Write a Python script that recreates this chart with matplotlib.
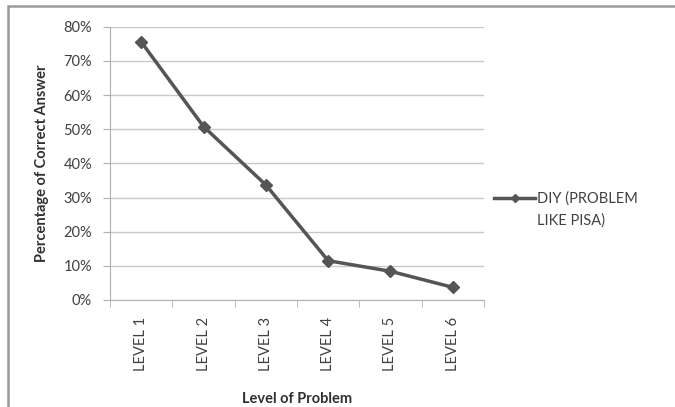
import matplotlib.pyplot as plt
from matplotlib.lines import Line2D
from matplotlib.patches import Rectangle
from matplotlib.ticker import PercentFormatter
from matplotlib.transforms import ScaledTranslation

levels = ['LEVEL 1', 'LEVEL 2', 'LEVEL 3', 'LEVEL 4', 'LEVEL 5', 'LEVEL 6']
correct = [75.6, 50.8, 33.7, 11.5, 8.4, 3.7]
series_name = 'DIY (PROBLEM\nLIKE PISA)'

plt.rcParams['font.family'] = ['Lato', 'DejaVu Sans']

fig = plt.figure(figsize=(6.75, 4.07), dpi=100)
ax = fig.add_axes([0.163, 0.263, 0.554, 0.671])

# gray frame, only top and left edges are inside the picture
fig.patches.append(Rectangle((0.012, -0.2), 1.2, 1.185, transform=fig.transFigure,
                             fill=False, edgecolor='#9a9a9a', linewidth=1.8))

x = list(range(len(levels)))
ax.plot(x, correct, color='#555555', linewidth=2.5, marker='D', markersize=6,
        label=series_name)

ax.set_xlim(-0.5, len(levels) - 0.5)
ax.set_ylim(0, 80)
ax.set_yticks(range(0, 81, 10))
ax.yaxis.set_major_formatter(PercentFormatter(decimals=0))
ax.set_xticks(x)
ax.set_xticklabels(levels, rotation=90)
ax.set_xticks([i - 0.5 for i in range(len(levels) + 1)], minor=True)
ax.tick_params(axis='x', which='major', length=0, pad=12, labelsize=10.5, labelcolor='#404040')
ax.tick_params(axis='x', which='minor', length=5, color='#b0b0b0')
ax.tick_params(axis='y', length=5, color='#b0b0b0', labelsize=10.5, labelcolor='#404040', pad=8)

ax.grid(axis='y', color='#c8c8c8', linewidth=1)
ax.set_axisbelow(True)
for s in ['top', 'right']:
    ax.spines[s].set_visible(False)
for s in ['left', 'bottom']:
    ax.spines[s].set_color('#b0b0b0')

ax.set_ylabel('Percentage of Correct Answer', fontweight='bold', fontsize=10.5,
              color='#303030', labelpad=10)
ax.set_xlabel('Level of Problem', fontweight='bold', fontsize=10.5, color='#303030', labelpad=15)

leg = ax.legend(loc='center left', bbox_to_anchor=(0.993, 0.33), frameon=False, fontsize=10.5,
                handlelength=2.8, handletextpad=0.1, labelcolor='#404040', markerscale=0.7)
for t in leg.get_texts():
    t.set_linespacing(1.65)
# line up the legend sample with the first line of the label
for ln in leg.findobj(Line2D):
    ln.set_transform(ln.get_transform() + ScaledTranslation(0, 0.12, fig.dpi_scale_trans))

fig.savefig('out.png', dpi=100)
